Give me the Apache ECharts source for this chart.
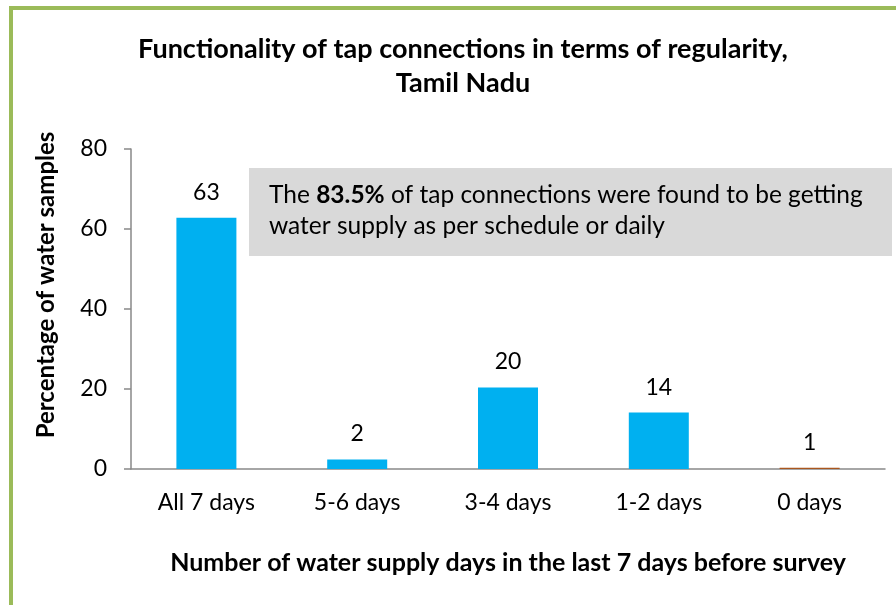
<!DOCTYPE html>
<html><head><meta charset="utf-8">
<script src="https://cdn.jsdelivr.net/npm/echarts@6/dist/echarts.min.js"></script>
<style>html,body{margin:0;padding:0;background:#fff}#c{width:896px;height:605px}</style>
</head><body><div id="c"></div>
<script>
const categories = ["All 7 days", "5-6 days", "3-4 days", "1-2 days", "0 days"];
const values = [62.8, 2.4, 20.4, 14.1, 0.3];
const dataLabels = ["63", "2", "20", "14", "1"];
const barColors = ["#00B0F0", "#00B0F0", "#00B0F0", "#00B0F0", "#A9561E"];
const yTicks = [0, 20, 40, 60, 80];

const FONT = "Lato, 'Open Sans', sans-serif";
const chart = echarts.init(document.getElementById('c'));
chart.setOption({
  animation: false,
  backgroundColor: '#fff',
  title: {
    text: 'Functionality of tap connections in terms of regularity,\nTamil Nadu',
    left: 458, top: 27, textAlign: 'center',
    textStyle: { fontFamily: FONT, fontWeight: 'bold', fontSize: 27, color: '#000', lineHeight: 34 }
  },
  grid: { left: 131, right: 11, top: 149, bottom: 136 },
  xAxis: {
    type: 'category', data: categories,
    name: 'Number of water supply days in the last 7 days before survey',
    nameLocation: 'middle', nameGap: 81,
    nameTextStyle: { fontFamily: FONT, fontWeight: 'bold', fontSize: 25, color: '#000' },
    axisLine: { lineStyle: { color: '#898989', width: 1.5 } },
    axisTick: { show: false },
    axisLabel: { fontFamily: FONT, fontSize: 23, color: '#000', margin: 22 }
  },
  yAxis: {
    type: 'value', min: yTicks[0], max: yTicks[yTicks.length - 1], interval: 20,
    name: 'Percentage of water samples',
    nameLocation: 'middle', nameGap: 73, nameRotate: 90,
    nameTextStyle: { fontFamily: FONT, fontWeight: 'bold', fontSize: 24, color: '#000', padding: [0, 0, 0, 48] },
    axisLine: { show: true, lineStyle: { color: '#898989', width: 1.5 } },
    axisTick: { show: true, length: 7, lineStyle: { color: '#898989', width: 1.5 } },
    splitLine: { show: false },
    axisLabel: { fontFamily: FONT, fontSize: 23, color: '#000', margin: 24 }
  },
  series: [{
    type: 'bar', barWidth: 60,
    data: values.map((v, i) => ({ value: v, itemStyle: { color: barColors[i] } })),
    label: {
      show: true, position: 'top', distance: 14,
      fontFamily: FONT, fontSize: 23, color: '#000',
      formatter: p => dataLabels[p.dataIndex]
    }
  }],
  graphic: [
    { type: 'rect', shape: { x: 11, y: 8, width: 1000, height: 1000 },
      style: { fill: 'none', stroke: '#9BBB59', lineWidth: 4 }, z: 100 },
    { type: 'rect', shape: { x: 249, y: 168, width: 643, height: 88 },
      style: { fill: '#D9D9D9' }, z: 50 },
    { type: 'text', left: 269, top: 180, z: 51,
      style: {
        text: '{a|The }{b|83.5%}{a| of tap connections were found to be getting}\n{a|water supply as per schedule or daily}',
        fontFamily: FONT, fontSize: 24.5, lineHeight: 31, fill: '#000',
        rich: {
          a: { fontFamily: FONT, fontSize: 24.5, color: '#000', lineHeight: 31 },
          b: { fontFamily: FONT, fontSize: 24.5, color: '#0070C0', fontWeight: 'bold', lineHeight: 31 }
        }
      } }
  ]
});
</script></body></html>
